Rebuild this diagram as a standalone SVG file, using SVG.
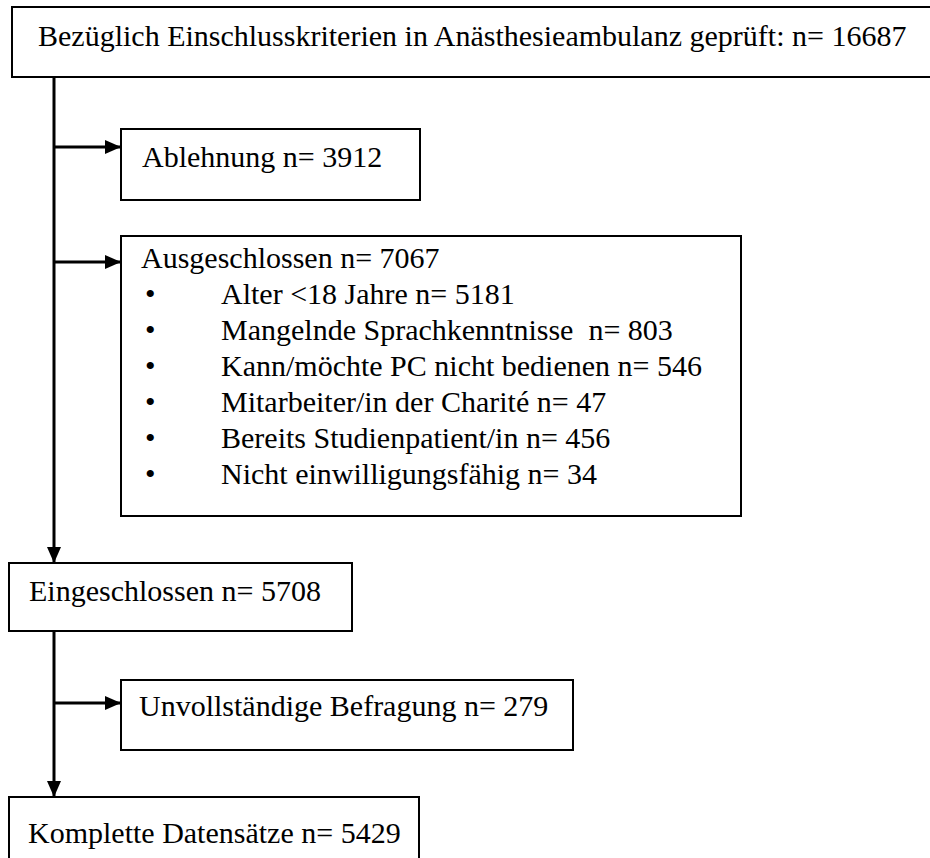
<svg xmlns="http://www.w3.org/2000/svg" width="930" height="858" viewBox="0 0 930 858">
<style>
.box{fill:#fff;stroke:#000;stroke-width:2}
.t{font-family:"Liberation Serif","Times New Roman",serif;font-size:30px;fill:#000}
.c{stroke:#000;stroke-width:3;fill:none}
</style>
<defs>
<marker id="ah" markerUnits="userSpaceOnUse" markerWidth="16" markerHeight="14" refX="16" refY="7" orient="auto">
<path d="M0,0 L16,7 L0,14 Z" fill="#000"/>
</marker>
</defs>
<rect width="930" height="858" fill="#fff"/>
<g id="connectors">
<line class="c" x1="54" y1="77" x2="54" y2="563" marker-end="url(#ah)"/>
<line class="c" x1="54" y1="147" x2="121" y2="147" marker-end="url(#ah)"/>
<line class="c" x1="54" y1="262" x2="121" y2="262" marker-end="url(#ah)"/>
<line class="c" x1="54" y1="631" x2="54" y2="797" marker-end="url(#ah)"/>
<line class="c" x1="54" y1="703" x2="121" y2="703" marker-end="url(#ah)"/>
</g>
<g id="n1">
<rect class="box" x="12" y="7" width="940" height="70"/>
<text class="t" x="38" y="46">Bezüglich Einschlusskriterien in Anästhesieambulanz geprüft: n= 16687</text>
</g>
<g id="n2">
<rect class="box" x="121" y="129" width="299" height="71"/>
<text class="t" x="142" y="167">Ablehnung n= 3912</text>
</g>
<g id="n3">
<rect class="box" x="121" y="236" width="620" height="280"/>
<text class="t" x="141" y="268">Ausgeschlossen n= 7067</text>
<text class="t" x="145" y="304">•</text><text class="t" x="221" y="304">Alter &lt;18 Jahre n= 5181</text>
<text class="t" x="145" y="340">•</text><text class="t" x="221" y="340">Mangelnde Sprachkenntnisse&#160; n= 803</text>
<text class="t" x="145" y="376">•</text><text class="t" x="221" y="376">Kann/möchte PC nicht bedienen n= 546</text>
<text class="t" x="145" y="412">•</text><text class="t" x="221" y="412">Mitarbeiter/in der Charité n= 47</text>
<text class="t" x="145" y="448">•</text><text class="t" x="221" y="448">Bereits Studienpatient/in n= 456</text>
<text class="t" x="145" y="484">•</text><text class="t" x="221" y="484">Nicht einwilligungsfähig n= 34</text>
</g>
<g id="n4">
<rect class="box" x="9" y="563" width="343" height="68"/>
<text class="t" x="29" y="601">Eingeschlossen n= 5708</text>
</g>
<g id="n5">
<rect class="box" x="121" y="680" width="452" height="70"/>
<text class="t" x="139" y="716">Unvollständige Befragung n= 279</text>
</g>
<g id="n6">
<rect class="box" x="9" y="797" width="410" height="80"/>
<text class="t" x="28" y="843">Komplette Datensätze n= 5429</text>
</g>
</svg>
